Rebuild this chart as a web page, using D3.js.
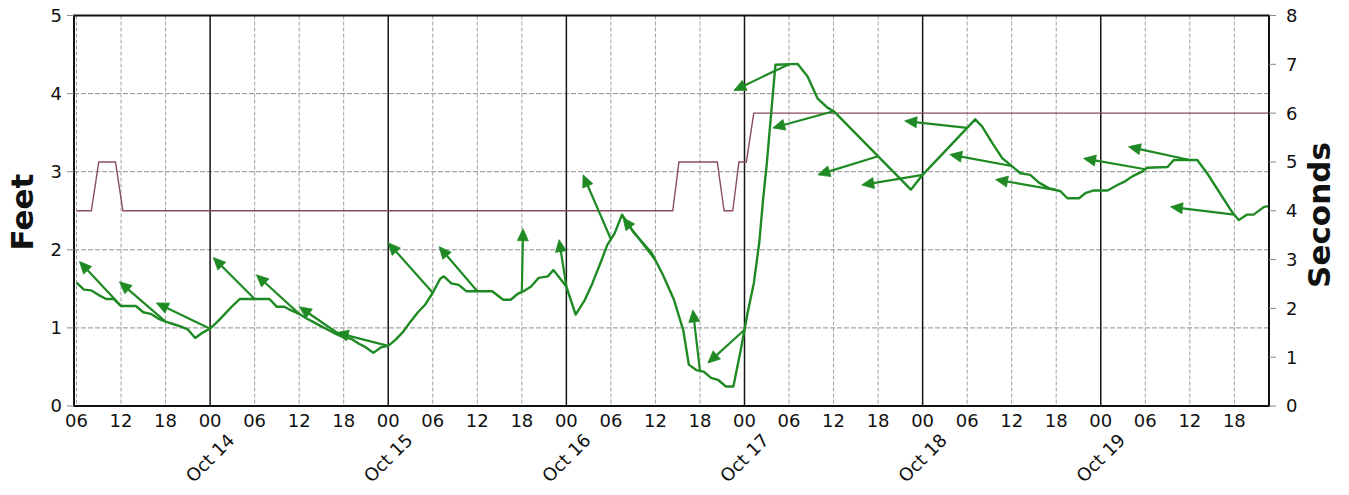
<!DOCTYPE html>
<html><head><meta charset="utf-8">
<script src="https://cdn.jsdelivr.net/npm/d3@7"></script>
<style>html,body{margin:0;padding:0;background:#fff}svg{display:block}</style>
</head><body>
<svg id="chart" width="1349" height="495"></svg>
<script>
// ---------- DATA ----------
const waveTimes = ["10-13 06:00","10-13 07:00","10-13 08:00","10-13 09:00","10-13 10:00","10-13 11:00","10-13 12:00","10-13 14:00","10-13 15:00","10-13 16:00","10-13 17:00","10-13 18:00","10-13 19:00","10-13 20:00","10-13 21:00","10-13 22:00","10-13 23:00",
"10-14 00:00","10-14 01:00","10-14 02:00","10-14 03:00","10-14 04:00","10-14 08:00","10-14 09:00","10-14 10:00","10-14 11:00","10-14 12:00","10-14 13:00","10-14 14:00","10-14 15:00","10-14 16:00","10-14 17:00","10-14 18:00","10-14 19:00","10-14 20:00","10-14 21:00","10-14 22:00","10-14 23:00",
"10-15 00:00","10-15 01:00","10-15 02:00","10-15 03:00","10-15 04:00","10-15 05:00","10-15 06:00","10-15 07:00","10-15 07:30","10-15 08:30","10-15 09:30","10-15 10:30","10-15 14:00","10-15 15:30","10-15 16:30","10-15 17:30","10-15 18:15","10-15 19:15","10-15 20:15","10-15 21:30","10-15 22:15",
"10-16 00:00","10-16 01:15","10-16 02:30","10-16 03:30","10-16 04:45","10-16 05:30","10-16 06:30","10-16 07:30","10-16 09:00","10-16 11:30","10-16 13:00","10-16 14:30","10-16 15:45","10-16 16:30","10-16 17:30","10-16 18:30","10-16 19:30","10-16 20:30","10-16 21:30","10-16 22:30","10-16 23:30",
"10-17 00:25","10-17 01:15","10-17 02:00","10-17 02:30","10-17 03:00","10-17 04:10","10-17 07:10","10-17 08:30","10-17 09:50","10-17 11:10","10-17 12:05","10-17 22:25",
"10-18 00:00","10-18 07:05","10-18 08:00","10-18 09:30","10-18 10:45","10-18 11:40","10-18 13:10","10-18 14:30","10-18 15:40","10-18 17:00","10-18 18:35","10-18 19:30","10-18 21:05","10-18 22:00","10-18 23:05",
"10-19 00:55","10-19 02:15","10-19 03:20","10-19 04:15","10-19 05:35","10-19 06:15","10-19 09:00","10-19 09:50","10-19 13:00","10-19 14:20","10-19 17:30","10-19 18:35","10-19 19:40","10-19 20:35","10-19 22:00","10-19 22:40"];
const waveFeet = [1.58,1.49,1.48,1.42,1.37,1.37,1.28,1.28,1.20,1.18,1.12,1.08,1.05,1.02,0.98,0.87,0.94,
0.99,1.08,1.18,1.28,1.37,1.37,1.27,1.27,1.22,1.18,1.12,1.07,1.02,0.97,0.92,0.88,0.86,0.80,0.75,0.68,0.75,
0.77,0.85,0.95,1.08,1.20,1.30,1.45,1.63,1.66,1.57,1.55,1.47,1.47,1.36,1.36,1.44,1.47,1.53,1.64,1.66,1.74,
1.53,1.17,1.36,1.57,1.87,2.06,2.21,2.45,2.23,1.96,1.68,1.36,0.97,0.53,0.46,0.44,0.36,0.33,0.25,0.25,0.72,
1.19,1.57,2.10,2.64,3.10,4.37,4.38,4.22,3.94,3.82,3.77,2.77,
2.96,3.67,3.58,3.35,3.17,3.10,2.98,2.96,2.86,2.79,2.75,2.66,2.66,2.73,2.76,
2.76,2.83,2.88,2.94,3.00,3.05,3.06,3.15,3.15,2.98,2.51,2.38,2.45,2.45,2.55,2.56];

const periodTimes = ["10-13 06:00","10-13 08:00","10-13 09:00","10-13 11:15","10-13 12:15","10-16 14:20","10-16 15:10","10-16 20:20","10-16 21:15","10-16 22:25","10-16 23:15","10-17 00:15","10-17 01:15","10-19 22:40"];
const periodSeconds = [4,4,5,5,4,4,5,5,4,4,5,5,6,6];

const arrowTailTimes = ["10-13 12:00","10-13 18:00","10-14 00:00","10-14 06:00","10-14 12:00","10-14 18:00","10-15 00:00","10-15 06:00","10-15 12:00","10-15 18:00","10-16 00:00","10-16 06:00","10-16 12:00","10-16 18:00","10-17 00:00","10-17 06:00","10-17 12:00","10-17 18:00","10-18 00:00","10-18 06:00","10-18 12:00","10-18 18:00","10-19 06:00","10-19 12:00","10-19 18:00"];
const arrowHeadTimes = ["10-13 06:24","10-13 11:47","10-13 16:46","10-14 00:26","10-14 06:14","10-14 12:01","10-14 17:00","10-15 00:00","10-15 06:52","10-15 18:10","10-15 23:01","10-16 02:15","10-16 07:38","10-16 17:03","10-16 19:04","10-16 22:34","10-17 03:49","10-17 09:53","10-17 15:48","10-17 21:35","10-18 03:39","10-18 09:50","10-18 21:41","10-19 03:44","10-19 09:24"];
const arrowHeadFeet = [1.85,1.59,1.32,1.90,1.68,1.27,0.94,2.09,2.04,2.27,2.13,2.96,2.41,1.23,0.55,4.04,3.56,2.96,2.83,3.65,3.22,2.90,3.17,3.32,2.55];

const feetTicks = [0,1,2,3,4,5];
const secondTicks = [0,1,2,3,4,5,6,7,8];
const hourTickLabels = ["06","12","18","00"];
const dayLabels = ["Oct 14","Oct 15","Oct 16","Oct 17","Oct 18","Oct 19"];
const timeStart = "10-13 06:00", timeEnd = "10-19 22:40";

// ---------- SCALES ----------
const parse = d3.timeParse("%m-%d %H:%M");
const svg = d3.select("#chart");
const L = 74, R = 1269, T = 15.5, B = 406;
const x = d3.scaleTime().domain([parse(timeStart), parse(timeEnd)]).range([76.5, R]);
const yF = d3.scaleLinear().domain([0, 5]).range([B, T]);
const yS = d3.scaleLinear().domain([0, 8]).range([B, T]);
const FONT = "'DejaVu Sans', Verdana, sans-serif";

const wave = waveTimes.map((t, i) => ({t: parse(t), v: waveFeet[i]}));
const period = periodTimes.map((t, i) => ({t: parse(t), v: periodSeconds[i]}));
const bis = d3.bisector(d => d.t).left;
function waveAt(t) {
  const i = bis(wave, t);
  if (i <= 0) return wave[0].v;
  if (i >= wave.length) return wave[wave.length - 1].v;
  const a = wave[i - 1], b = wave[i];
  const f = (t - a.t) / (b.t - a.t);
  return a.v + f * (b.v - a.v);
}

// ---------- GRID ----------
const g = svg.append("g");
const sixHours = d3.timeHour.every(6).range(parse(timeStart), d3.timeMinute.offset(parse(timeEnd), 1));
g.selectAll("line.hg").data(feetTicks.filter(d => d > 0 && d < 5)).join("line")
  .attr("x1", L).attr("x2", R).attr("y1", d => yF(d)).attr("y2", d => yF(d))
  .attr("stroke", "#8f8f8f").attr("stroke-width", 1).attr("stroke-dasharray", "5,2");
g.selectAll("line.vg").data(sixHours.filter(d => d.getHours() !== 0 && x(d) > L + 2)).join("line")
  .attr("x1", d => x(d)).attr("x2", d => x(d)).attr("y1", T).attr("y2", B)
  .attr("stroke", "#a0a0a0").attr("stroke-width", 1).attr("stroke-dasharray", "4,2");
g.selectAll("line.mid").data(sixHours.filter(d => d.getHours() === 0)).join("line")
  .attr("x1", d => x(d)).attr("x2", d => x(d)).attr("y1", T).attr("y2", B)
  .attr("stroke", "#151515").attr("stroke-width", 1.5);

// ---------- PERIOD LINE ----------
svg.append("path").datum(period)
  .attr("d", d3.line().x(d => x(d.t)).y(d => yS(d.v)))
  .attr("fill", "none").attr("stroke", "#8a4d5d").attr("stroke-width", 1.4);

// ---------- WAVE HEIGHT LINE ----------
svg.append("path").datum(wave)
  .attr("d", d3.line().x(d => x(d.t)).y(d => yF(d.v)))
  .attr("fill", "none").attr("stroke", "#1f8a24").attr("stroke-width", 2.4)
  .attr("stroke-linejoin", "round");

// ---------- DIRECTION ARROWS ----------
const arrows = arrowTailTimes.map((t, i) => {
  const tt = parse(t);
  return {x1: x(tt), y1: yF(waveAt(tt)), x2: x(parse(arrowHeadTimes[i])), y2: yF(arrowHeadFeet[i])};
});
const ag = svg.append("g");
const HL = 12, HW = 5.5;
arrows.forEach(a => {
  const ang = Math.atan2(a.y2 - a.y1, a.x2 - a.x1);
  const c = Math.cos(ang), s = Math.sin(ang);
  const bx = a.x2 - HL * c, by = a.y2 - HL * s;
  ag.append("line").attr("x1", a.x1).attr("y1", a.y1).attr("x2", bx + 2 * c).attr("y2", by + 2 * s)
    .attr("stroke", "#1f8a24").attr("stroke-width", 2.2);
  ag.append("path")
    .attr("d", `M${a.x2},${a.y2}L${bx - HW * s},${by + HW * c}L${bx + HW * s},${by - HW * c}Z`)
    .attr("fill", "#1f8a24").attr("stroke", "#1f8a24").attr("stroke-width", 0.8).attr("stroke-linejoin", "round");
});

// ---------- FRAME ----------
svg.append("rect").attr("x", L).attr("y", T).attr("width", R - L).attr("height", B - T)
  .attr("fill", "none").attr("stroke", "#111").attr("stroke-width", 2);

// ---------- AXES ----------
const ax = svg.append("g").attr("font-family", FONT).attr("fill", "#111");
feetTicks.forEach(d => {
  ax.append("line").attr("x1", L - 7).attr("x2", L).attr("y1", yF(d)).attr("y2", yF(d))
    .attr("stroke", "#888").attr("stroke-width", 1);
  ax.append("text").attr("x", 62).attr("y", yF(d)).attr("dy", "0.36em")
    .attr("text-anchor", "end").attr("font-size", 18).text(d);
});
secondTicks.forEach(d => {
  ax.append("line").attr("x1", R).attr("x2", R + 7).attr("y1", yS(d)).attr("y2", yS(d))
    .attr("stroke", "#888").attr("stroke-width", 1);
  ax.append("text").attr("x", 1286).attr("y", yS(d)).attr("dy", "0.36em")
    .attr("text-anchor", "start").attr("font-size", 18).text(d);
});
sixHours.forEach(d => {
  const lbl = hourTickLabels[[6, 12, 18, 0].indexOf(d.getHours())];
  ax.append("text").attr("x", x(d)).attr("y", 427).attr("text-anchor", "middle")
    .attr("font-size", 18).text(lbl);
});
sixHours.filter(d => d.getHours() === 0).forEach((d, i) => {
  ax.append("text").attr("transform", `translate(${x(d)},458) rotate(-45)`)
    .attr("text-anchor", "middle").attr("dy", "0.35em").attr("font-size", 18).text(dayLabels[i]);
});
ax.append("text").attr("transform", "translate(33,212) rotate(-90)")
  .attr("text-anchor", "middle").attr("font-size", 31).attr("font-weight", "bold").text("Feet");
ax.append("text").attr("transform", "translate(1330,215) rotate(-90)")
  .attr("text-anchor", "middle").attr("font-size", 31).attr("font-weight", "bold").text("Seconds");
</script>
</body></html>
